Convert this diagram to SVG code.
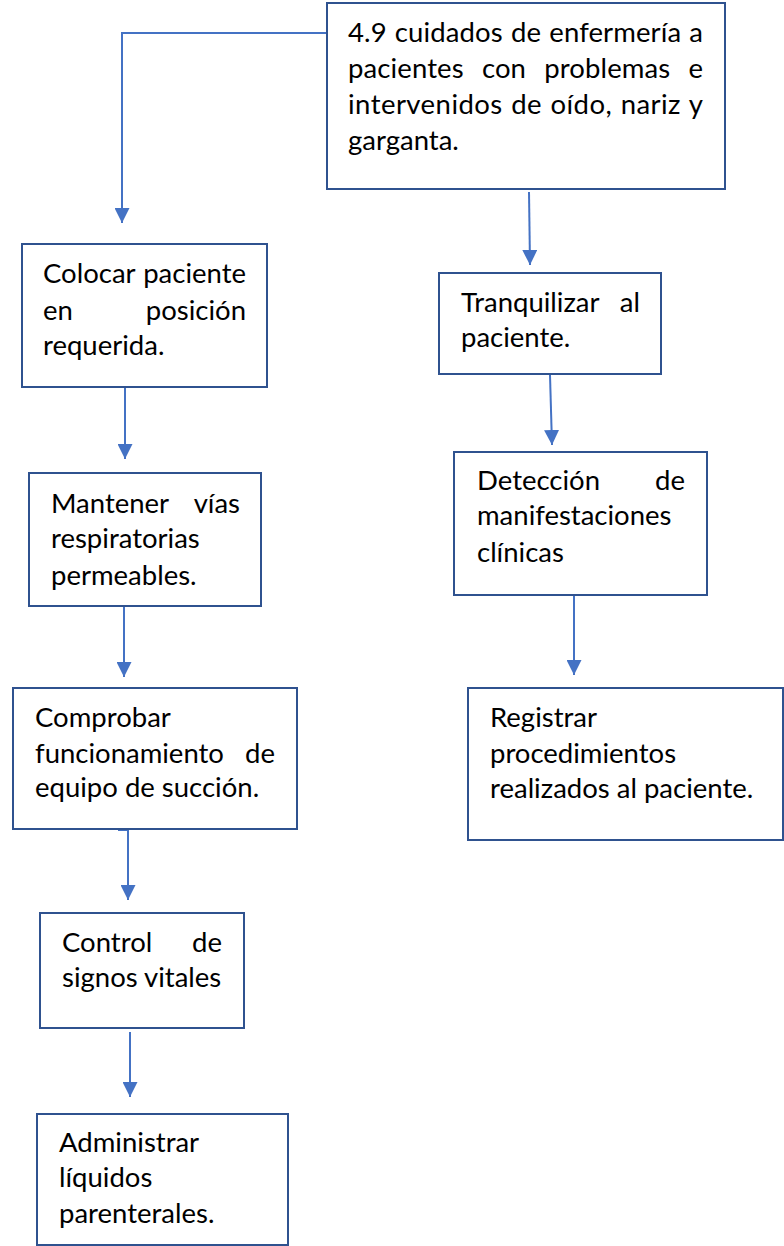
<svg xmlns="http://www.w3.org/2000/svg" width="784" height="1246" viewBox="0 0 784 1246">
<style>
.bg{fill:#ffffff}
.box{fill:#ffffff;stroke:#2F528F;stroke-width:2}
.t{font-family:Lato,"Liberation Sans",sans-serif;font-size:27.5px;fill:#000000}
.e{text-anchor:end}
.c{fill:none;stroke:#4472C4;stroke-width:2}
</style>
<defs>
<marker id="ah" markerUnits="userSpaceOnUse" markerWidth="15" markerHeight="15" refX="15" refY="7.5" orient="auto">
<path d="M0,0 L15,7.5 L0,15 z" fill="#4472C4"/>
</marker>
</defs>
<rect class="bg" x="0" y="0" width="784" height="1246"/>

<g id="connectors">
<path class="c" d="M327,33 H122 V223" marker-end="url(#ah)"/>
<path class="c" d="M529,192 L530,265" marker-end="url(#ah)"/>
<path class="c" d="M550,375 L552,445" marker-end="url(#ah)"/>
<path class="c" d="M574,596 V675" marker-end="url(#ah)"/>
<path class="c" d="M125,388 V459" marker-end="url(#ah)"/>
<path class="c" d="M124,607 V677" marker-end="url(#ah)"/>
<path class="c" d="M118,830 H128 V900" marker-end="url(#ah)"/>
<path class="c" d="M130,1032 V1097" marker-end="url(#ah)"/>
</g>

<g id="n-top">
<rect class="box" x="327" y="3" width="398" height="186"/>
<text class="t" x="348" y="42" textLength="355" lengthAdjust="spacing" style="word-spacing:1px">4.9 cuidados de enfermería a</text>
<text class="t" x="348" y="78" textLength="355" lengthAdjust="spacing" style="word-spacing:11px">pacientes con problemas e</text>
<text class="t" x="348" y="114" textLength="355" lengthAdjust="spacing" style="word-spacing:1px">intervenidos de oído, nariz y</text>
<text class="t" x="348" y="150">garganta.</text>
</g>

<g id="n-colocar">
<rect class="box" x="22" y="244" width="245" height="143"/>
<text class="t" x="43" y="283">Colocar</text>
<text class="t e" x="246" y="283">paciente</text>
<text class="t" x="43" y="320">en</text>
<text class="t e" x="246" y="320">posición</text>
<text class="t" x="43" y="355">requerida.</text>
</g>

<g id="n-mantener">
<rect class="box" x="29" y="473" width="232" height="133"/>
<text class="t" x="51" y="513">Mantener</text>
<text class="t e" x="240" y="513">vías</text>
<text class="t" x="51" y="548">respiratorias</text>
<text class="t" x="51" y="585">permeables.</text>
</g>

<g id="n-comprobar">
<rect class="box" x="13" y="688" width="284" height="141"/>
<text class="t" x="35" y="727">Comprobar</text>
<text class="t" x="35" y="763">funcionamiento</text>
<text class="t e" x="275" y="763">de</text>
<text class="t" x="35" y="797">equipo de succión.</text>
</g>

<g id="n-control">
<rect class="box" x="40" y="913" width="204" height="115"/>
<text class="t" x="62" y="952">Control</text>
<text class="t e" x="222" y="952">de</text>
<text class="t" x="62" y="987">signos vitales</text>
</g>

<g id="n-administrar">
<rect class="box" x="37" y="1114" width="251" height="131"/>
<text class="t" x="59" y="1152">Administrar</text>
<text class="t" x="59" y="1187">líquidos</text>
<text class="t" x="59" y="1223">parenterales.</text>
</g>

<g id="n-tranquilizar">
<rect class="box" x="439" y="273" width="222" height="101"/>
<text class="t" x="461" y="312">Tranquilizar</text>
<text class="t e" x="640" y="312">al</text>
<text class="t" x="461" y="347">paciente.</text>
</g>

<g id="n-deteccion">
<rect class="box" x="454" y="452" width="253" height="143"/>
<text class="t" x="477" y="490">Detección</text>
<text class="t e" x="685" y="490">de</text>
<text class="t" x="477" y="525">manifestaciones</text>
<text class="t" x="477" y="562">clínicas</text>
</g>

<g id="n-registrar">
<rect class="box" x="468" y="688" width="315" height="152"/>
<text class="t" x="490" y="727">Registrar</text>
<text class="t" x="490" y="763">procedimientos</text>
<text class="t" x="490" y="798">realizados al paciente.</text>
</g>
</svg>
